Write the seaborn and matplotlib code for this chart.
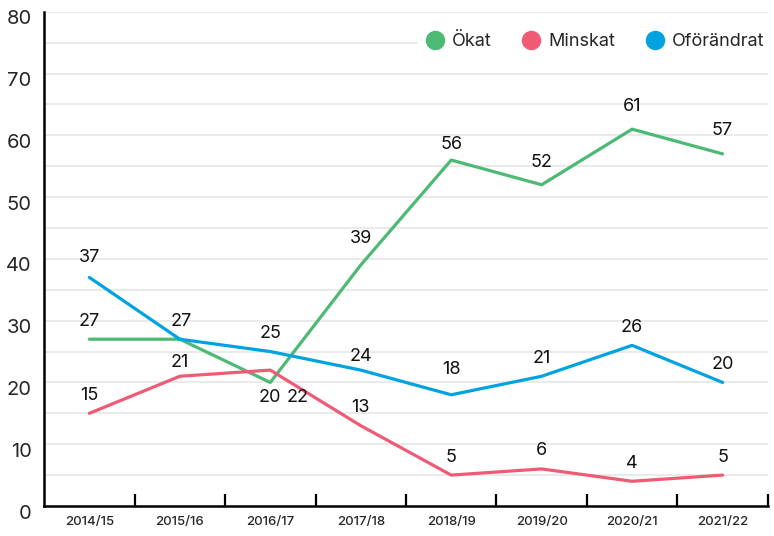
import matplotlib
matplotlib.use("Agg")
import matplotlib.pyplot as plt
import matplotlib.transforms as mtransforms
from matplotlib.lines import Line2D
import pandas as pd
import seaborn as sns

# Data
years = ["2014/15", "2015/16", "2016/17", "2017/18", "2018/19", "2019/20", "2020/21", "2021/22"]
okat = [27, 27, 20, 39, 56, 52, 61, 57]
minskat = [15, 21, 22, 13, 5, 6, 4, 5]
oforandrat = [37, 27, 25, 22, 18, 21, 26, 20]

# value labels as printed in the original (one "27" shared at 2015/16)
okat_labels = ["27", "", "20", "39", "56", "52", "61", "57"]
minskat_labels = ["15", "21", "22", "13", "5", "6", "4", "5"]
oforandrat_labels = ["37", "27", "25", "24", "18", "21", "26", "20"]

series_names = ["Ökat", "Minskat", "Oförändrat"]
colors = {"Ökat": "#4cb974", "Minskat": "#ef5b74", "Oförändrat": "#00a3e0"}

df = pd.DataFrame({"År": years, "Ökat": okat, "Minskat": minskat, "Oförändrat": oforandrat})
long_df = df.melt(id_vars="År", var_name="Serie", value_name="Andel")
long_df["x"] = long_df["År"].map({y: i for i, y in enumerate(years)})

sns.set_theme(style="white")
plt.rcParams["font.family"] = ["Inter", "DejaVu Sans"]

fig = plt.figure(figsize=(7.74, 5.36), dpi=100)
ax = fig.add_axes([0.057, 0.056, 0.935, 0.922])

sns.lineplot(
    data=long_df, x="x", y="Andel", hue="Serie", hue_order=series_names,
    palette=colors, linewidth=2.3, legend=False, ax=ax, zorder=3,
)

# value labels (offsets in points, tweaked to match the original layout)
default_off = (0, 13)
special_off = {
    ("Ökat", 2): (0, -11),
    ("Ökat", 3): (0, 19),
    ("Ökat", 4): (0, 11),
    ("Minskat", 1): (0, 10),
    ("Minskat", 2): (20, -20),
    ("Oförändrat", 1): (1, 13),
    ("Oförändrat", 3): (0, 10),
    ("Oförändrat", 4): (0, 18),
    ("Oförändrat", 0): (0, 14),
    ("Ökat", 6): (0, 16),
    ("Ökat", 7): (0, 17),
    ("Ökat", 5): (0, 16),
}
label_map = {"Ökat": okat_labels, "Minskat": minskat_labels, "Oförändrat": oforandrat_labels}
value_map = {"Ökat": okat, "Minskat": minskat, "Oförändrat": oforandrat}
for name in series_names:
    for i, (v, lab) in enumerate(zip(value_map[name], label_map[name])):
        if not lab:
            continue
        off = special_off.get((name, i), default_off)
        ax.annotate(lab, (i, v), xytext=off, textcoords="offset points",
                    ha="center", va="center", fontsize=13, color="#111111", zorder=5)

# axes styling
ax.set_xlim(-0.5, len(years) - 0.5)
ax.set_ylim(0, 80)
ax.set_yticks(range(0, 81, 10))
ax.grid(False)
for yv in range(5, 81, 5):
    ax.axhline(yv, color="#e4e4e4", linewidth=1.1, zorder=1)

ax.set_xticks([i + 0.5 for i in range(len(years))])
ax.set_xticklabels([])
ax.set_xticks(range(len(years)), minor=True)
ax.set_xticklabels(years, minor=True, fontsize=9.5, fontweight="medium")
ax.tick_params(axis="x", which="major", direction="in", length=9, width=1.6, color="black", bottom=True)
ax.tick_params(axis="x", which="minor", length=0, pad=7)
ax.tick_params(axis="y", which="both", length=0, pad=9, labelsize=14.5)
for lab in ax.get_yticklabels():
    lab.set_transform(lab.get_transform() + mtransforms.ScaledTranslation(0, -4 / 72, fig.dpi_scale_trans))

ax.set_xlabel("")
ax.set_ylabel("")
for side in ["top", "right"]:
    ax.spines[side].set_visible(False)
for side in ["left", "bottom"]:
    ax.spines[side].set_color("black")
    ax.spines[side].set_linewidth(1.8)

handles = [Line2D([], [], linestyle="none", marker="o", markersize=13,
                  color=colors[n], label=n) for n in series_names]
leg = ax.legend(handles=handles, loc="upper right", bbox_to_anchor=(1.018, 0.99), ncol=3,
                frameon=True, fontsize=13, handletextpad=0.45, columnspacing=1.7,
                borderpad=0.4, handlelength=1.0)
leg.get_frame().set_facecolor("white")
leg.get_frame().set_edgecolor("none")
leg.get_frame().set_alpha(1)
leg.set_zorder(6)

fig.savefig("out.png", dpi=100)
